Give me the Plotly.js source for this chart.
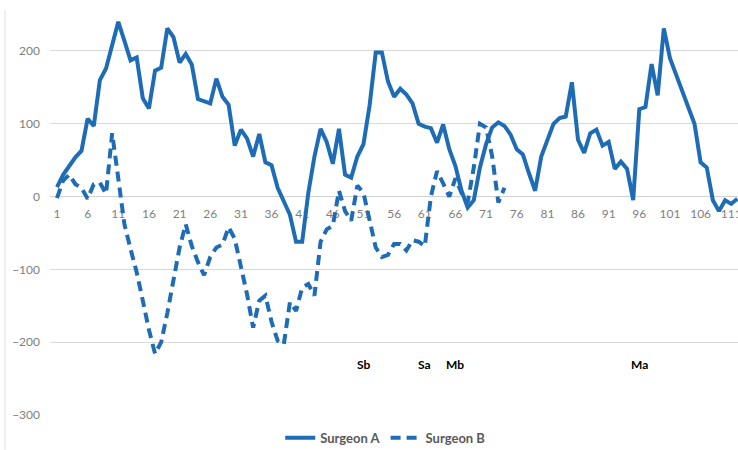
<!DOCTYPE html>
<html>
<head>
<meta charset="utf-8">
<script src="https://cdn.plot.ly/plotly-3.0.1.min.js"></script>
<style>html,body{margin:0;padding:0;background:#fff;}#chart{width:738px;height:450px;}</style>
</head>
<body>
<div id="chart"></div>
<script>
var surgeonA = [13,30,42,54,63,107,97,160,176,210,
240,214,187,191,135,121,173,177,231,219,
184,196,181,134,131,128,162,137,126,70,
92,80,55,86,47,43,12,-5,-25,-62,
-62,5,55,93,75,45,93,30,26,55,
72,125,198,198,158,137,148,140,128,100,
96,94,74,99,65,42,8,-15,-5,40,
72,95,102,97,85,65,58,32,8,55,
78,100,108,110,157,78,60,87,92,70,
75,38,48,38,-5,120,123,182,139,231,
190,168,146,122,100,47,40,-5,-20,-5,
-10,-3];
var surgeonB = [-2,22,30,17,12,-3,17,19,4,87,
25,-38,-72,-104,-143,-183,-216,-200,-160,-115,
-70,-38,-68,-90,-108,-83,-70,-66,-42,-58,
-95,-134,-180,-143,-136,-172,-198,-203,-145,-157,
-125,-120,-136,-62,-45,-40,8,-20,-33,15,
5,-30,-70,-83,-80,-65,-65,-74,-60,-62,
-68,0,35,18,0,25,5,-8,40,100,
95,55,-8,12];
var seriesNames = ['Surgeon A','Surgeon B'];
var markerLabels = ['Sb','Sa','Mb','Ma'];
var markerCats = [51,61,66,96];
var markerLevel = -230;

function cats(n){var c=[];for(var i=1;i<=n;i++)c.push(i);return c;}

var blue = '#1f6cb6';
var traces = [
  {x: cats(surgeonA.length), y: surgeonA, name: seriesNames[0], type:'scatter', mode:'lines',
   line:{color:blue, width:4}},
  {x: cats(surgeonB.length), y: surgeonB, name: seriesNames[1], type:'scatter', mode:'lines',
   line:{color:blue, width:4, dash:'10px,6px'}}
];

var tickFont = {family:'Lato, Open Sans, sans-serif', size:12, color:'#808080'};
var ymin=-300, ymax=270;
var layout = {
  width:738, height:450,
  margin:{l:50, r:0, t:0, b:35, autoexpand:false},
  paper_bgcolor:'#fff', plot_bgcolor:'#fff',
  showlegend:true,
  xaxis:{range:[-0.14,112.1], tick0:1, dtick:5, showgrid:false, zeroline:false, showline:false,
         anchor:'free', position:(0-ymin)/(ymax-ymin), ticks:'', tickfont:tickFont,
         layer:'below traces', ticklabelstandoff:8, ticklabeloverflow:'allow'},
  yaxis:{range:[ymin,ymax], dtick:100, gridcolor:'#d9d9d9', gridwidth:1,
         zeroline:true, zerolinecolor:'#d0d0d0', zerolinewidth:1,
         ticks:'', tickfont:tickFont, ticklabelstandoff:9, layer:'below traces'},
  legend:{orientation:'h', x:0.488, xanchor:'center', y:-0.055, yanchor:'middle',
          font:{family:'Lato, Open Sans, sans-serif', size:13, color:'#595959', weight:'bold'},
          bgcolor:'rgba(0,0,0,0)'},
  annotations: markerLabels.map(function(t,i){
    return {x:markerCats[i], y:markerLevel, xref:'x', yref:'y', text:t, showarrow:false,
            font:{family:'Lato, Open Sans, sans-serif', size:12, color:'#000', weight:'bold'}};
  }),
  shapes:[{type:'line', xref:'paper', yref:'paper', x0:-0.0654, x1:-0.0654, y0:-0.0843, y1:0.976,
           line:{color:'#e0e0e0', width:1}}]
};
Plotly.newPlot('chart', traces, layout, {displayModeBar:false, staticPlot:true});
</script>
</body>
</html>
